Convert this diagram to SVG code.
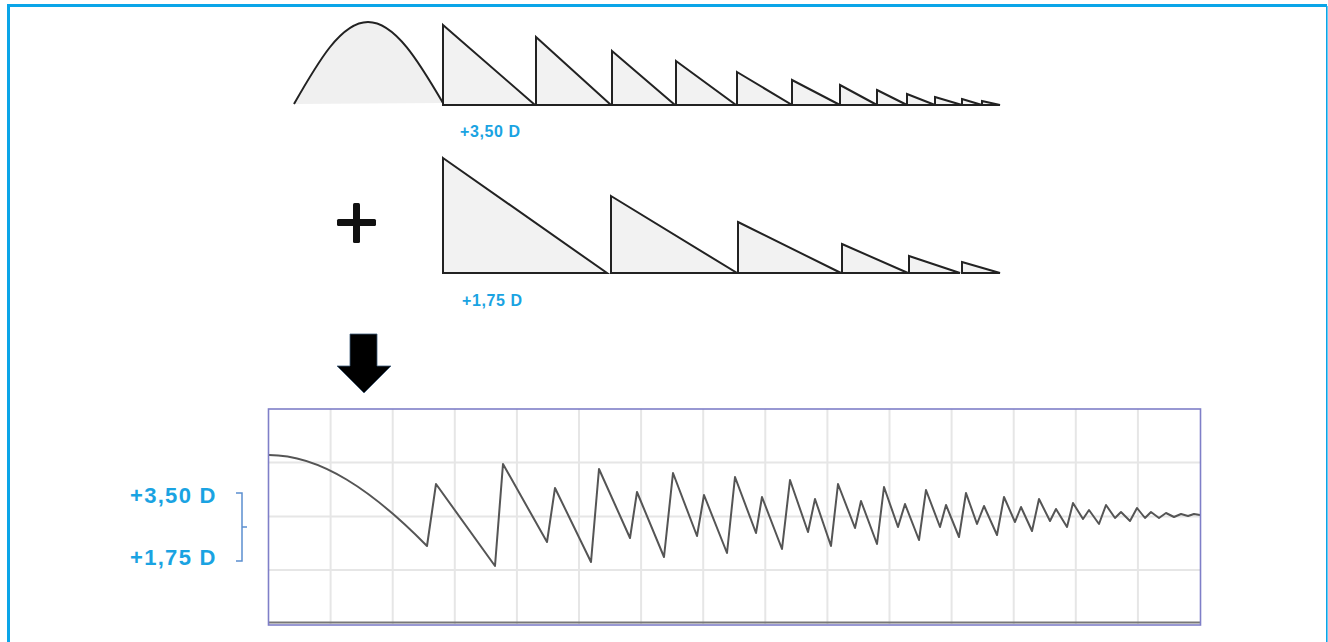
<svg xmlns="http://www.w3.org/2000/svg" width="1328" height="642" viewBox="0 0 1328 642">
<style>
.saw{fill:#f2f2f2;stroke:#222;stroke-width:2;stroke-linejoin:miter}
.lbl{font-family:"Liberation Sans",Arial,sans-serif;font-weight:bold;fill:#1aa3e2}
.small{font-size:16px;letter-spacing:0.6px}
.big{font-size:22px;letter-spacing:1.3px}
.grid{stroke:#e6e6e6;stroke-width:2;fill:none}
.wave{fill:none;stroke:#555;stroke-width:2;stroke-linejoin:round;stroke-linecap:round}
</style>
<defs>
<filter id="soft" x="-2%" y="-10%" width="104%" height="120%"><feGaussianBlur stdDeviation="0.35"/></filter>
</defs>
<rect width="1328" height="642" fill="#fff"/>
<g id="frame" fill="none" stroke="#0aa5e8">
<path d="M8.5,642 V5.5 H1327" stroke-width="3"/>
<path d="M1326.8,6 V642" stroke-width="1.6"/>
</g>
<g id="row1">
<path d="M294,104 C318,62 341,22 368,22 C395,22 419,62 443,103 Z" fill="#f0f0f0" stroke="none"/>
<path d="M294,104 C318,62 341,22 368,22 C395,22 419,62 443,103" fill="none" stroke="#222" stroke-width="2"/>
<polygon class="saw" points="443,25 535,105 443,105"/>
<polygon class="saw" points="536,37 611,105 536,105"/>
<polygon class="saw" points="612,51 675,105 612,105"/>
<polygon class="saw" points="676,61 736,105 676,105"/>
<polygon class="saw" points="737,72 792,105 737,105"/>
<polygon class="saw" points="792,80 840,105 792,105"/>
<polygon class="saw" points="840,85 877,105 840,105"/>
<polygon class="saw" points="877,90 907,105 877,105"/>
<polygon class="saw" points="907,94 935,105 907,105"/>
<polygon class="saw" points="935,97 962,105 935,105"/>
<polygon class="saw" points="962,99 982,105 962,105"/>
<polygon class="saw" points="982,101 1000,105 982,105"/>
<text class="lbl small" x="460" y="137">+3,50 D</text>
</g>
<g id="plus">
<rect x="337" y="219" width="39" height="7" rx="1.5" fill="#111"/>
<rect x="353" y="203" width="7" height="40" rx="1.5" fill="#111"/>
</g>
<g id="row2">
<polygon class="saw" points="443,158 607,273 443,273"/>
<polygon class="saw" points="611,196 737,273 611,273"/>
<polygon class="saw" points="738,222 841,273 738,273"/>
<polygon class="saw" points="842,244 908,273 842,273"/>
<polygon class="saw" points="909,256 960,273 909,273"/>
<polygon class="saw" points="962,262 1000,273 962,273"/>
<text class="lbl small" x="462" y="306">+1,75 D</text>
</g>
<g id="connectors">
<polygon points="350,334 377,334 377,366 391,366 364,393 337,366 350,366" fill="#000" stroke="#3d5a78" stroke-width="0.8" stroke-linejoin="miter"/>
</g>
<g id="chart">
<g class="grid">
<path d="M330.6,409V624 M392.7,409V624 M454.8,409V624 M516.9,409V624 M579,409V624 M641.1,409V624 M703.2,409V624 M765.3,409V624 M827.4,409V624 M889.5,409V624 M951.6,409V624 M1013.7,409V624 M1075.8,409V624 M1137.9,409V624"/>
<path d="M269,462.5H1200 M269,516.5H1200 M269,570H1200"/>
</g>
<path class="wave" filter="url(#soft)" d="M269,455 C320,455 372,490 427,546 L436,484 L495,566 L503,464 L547,542 L555,488 L591,562 L599,469 L630,538 L637,492 L664,557 L673,473 L697,536 L704,495 L727,553 L735,477 L756,533 L762,497 L782,549 L790,480 L808,532 L815,499 L831,546 L838,484 L855,528 L861,501 L877,544 L884,487 L898,527 L905,504 L919,540 L926,490 L940,527 L946,505 L959,537 L966,493 L977,524 L984,506 L997,535 L1004,497 L1015,522 L1021,507 L1032,531 L1039,499 L1050,521 L1056,509 L1067,527 L1073,503 L1083,519 L1089,510 L1099,524 L1106,505 L1115,518 L1121,512 L1130,521 L1137,508 L1145,518 L1151,512 L1159,518 L1166,513 L1174,517 L1181,514 L1188,516 L1194,514 L1200,515"/>
<path d="M269,622.5H1200" stroke="#777" stroke-width="2"/>
<rect x="268.5" y="409" width="932" height="216" fill="none" stroke="#7f7fc8" stroke-width="1.6"/>
</g>
<g id="scale">
<text class="lbl big" x="130" y="503">+3,50 D</text>
<text class="lbl big" x="130" y="565">+1,75 D</text>
<path d="M236,493 H242 V561 H236 M242,527 H247" fill="none" stroke="#5b8fd0" stroke-width="1.5"/>
</g>
</svg>
